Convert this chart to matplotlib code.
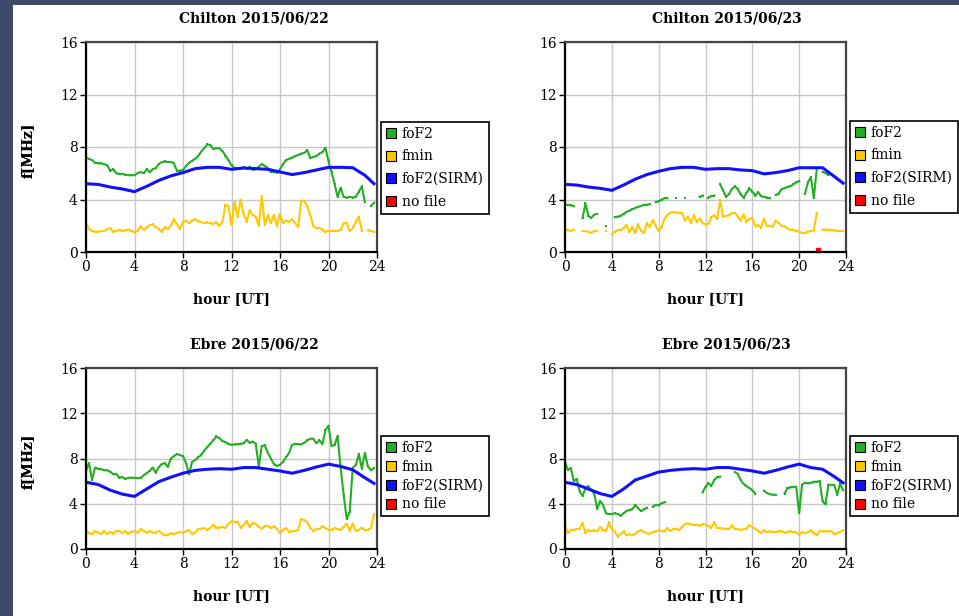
import numpy as np
import matplotlib
matplotlib.use("Agg")
import matplotlib.pyplot as plt
from matplotlib.lines import Line2D
from matplotlib.patches import Rectangle

nan = np.nan

# 15-minute sampling for the measured series, hourly for the model curve
hours = np.arange(96) * 0.25
sirm_hours = np.r_[np.arange(24), 23.75]

# ---- Chilton 2015/06/22 ----
chilton22_fof2 = [
    7.2, 7.1, 7.0, 6.8, 6.75, 6.75, 6.7, 6.6,
    6.2, 6.3, 6.0, 5.95, 5.95, 5.9, 5.85, 5.85,
    5.85, 6.0, 6.1, 6.0, 6.3, 6.1, 6.3, 6.4,
    6.7, 6.85, 6.9, 6.85, 6.85, 6.75, 6.2, 6.2,
    6.25, 6.55, 6.8, 6.95, 7.1, 7.3, 7.65, 7.9,
    8.2, 8.15, 7.85, 7.9, 7.9, 7.7, 7.35, 7.0,
    6.6, 6.4, 6.4, 6.4, 6.45, 6.35, 6.5, 6.25,
    6.3, 6.5, 6.7, 6.55, 6.4, 6.1, 6.1, 6.05,
    6.3, 6.7, 7.0, 7.1, 7.2, 7.3, 7.4, 7.5,
    7.55, 7.75, 7.15, 7.25, 7.3, 7.5, 7.6, 7.95,
    6.9, 6.1, 5.2, 4.2, 4.9, 4.2, 4.15, 4.2,
    4.15, 4.2, 4.6, 5.0, 3.8, nan, 3.5, 3.75,
]
chilton22_fmin = [
    2.2, 1.75, 1.6, 1.55, 1.55, 1.6, 1.6, 1.75,
    1.8, 1.55, 1.6, 1.7, 1.6, 1.65, 1.7, 1.6,
    1.5, 1.6, 1.95, 1.7, 1.85, 2.05, 2.1, 1.9,
    1.75, 1.55, 1.9, 1.75, 2.0, 2.5, 2.1, 1.75,
    2.3, 2.4, 2.2, 2.4, 2.5, 2.35, 2.3, 2.2,
    2.25, 2.2, 2.15, 2.25, 2.0, 2.3, 3.6, 3.5,
    2.05, 3.8, 2.7, 4.0, 2.9, 2.3, 3.2, 2.8,
    2.7, 2.0, 4.3, 2.05, 2.8, 2.2, 2.8, 2.0,
    2.9, 2.2, 2.4, 2.3, 2.5, 2.2, 1.9, 3.9,
    3.9, 3.5, 2.8, 2.0, 1.8, 1.85, 1.7, 1.55,
    1.6, 1.6, 1.6, 1.6, 1.7, 2.2, 2.2, 1.6,
    1.8, 2.3, 2.7, 1.6, nan, 1.65, 1.6, 1.55,
]
chilton22_sirm = [5.2, 5.15, 4.95, 4.8, 4.6, 5.0, 5.45, 5.8, 6.05, 6.35, 6.45, 6.45,
                  6.3, 6.4, 6.35, 6.3, 6.1, 5.9, 6.05, 6.25, 6.45, 6.45, 6.42, 5.85, 5.2]

# ---- Chilton 2015/06/23 ----
chilton23_fof2 = [
    3.6, 3.6, 3.55, 3.5, nan, nan, 2.6, 3.7,
    2.75, 2.6, 2.85, 2.9, nan, nan, 2.0, nan,
    nan, 2.65, 2.7, 2.75, 2.9, 3.05, 3.15, 3.25,
    3.35, 3.45, 3.5, 3.6, 3.6, 3.65, nan, 3.8,
    3.85, 4.0, 4.1, 4.1, nan, nan, 4.15, nan,
    nan, 4.15, nan, nan, nan, nan, 4.2, 4.3,
    nan, 4.15, 4.25, 4.3, nan, 5.15, 4.7, 4.2,
    4.4, 4.8, 5.0, 4.8, 4.4, 4.15, 4.5, 4.85,
    4.6, 4.3, 4.55, 4.25, 4.2, 4.15, 4.1, nan,
    4.35, 4.45, 4.8, 4.85, 4.95, 5.0, 5.15, 5.3,
    5.4, nan, 4.45, 5.3, 5.7, 4.1, 6.3, nan,
    6.1, 6.0, 5.9, 5.95, 5.8, 5.6, 5.4, 5.25,
]
chilton23_fmin = [
    1.8, 1.65, 1.6, 1.7, nan, nan, 1.6, 1.6,
    1.55, 1.45, 1.6, 1.6, nan, nan, 1.6, nan,
    1.35, 1.55, 1.65, 1.7, 1.8, 2.05, 1.55, 1.9,
    1.45, 2.1, 1.6, 1.45, 2.2, 1.9, 2.45, 2.0,
    1.6, 1.9, 2.55, 2.8, 3.0, 3.05, 3.0, 3.0,
    2.95, 2.4, 2.7, 2.2, 2.8, 2.3, 2.55, 2.2,
    2.1, 2.15, 2.65, 2.8, 2.5, 3.95, 2.7, 2.75,
    2.8, 2.95, 3.0, 2.7, 2.4, 2.85, 2.3, 2.5,
    2.6, 1.95, 2.05, 1.85, 2.55, 1.95, 2.0, 1.9,
    2.4, 2.2, 2.0, 1.95, 1.8, 1.7, 1.7, 1.6,
    1.55, 1.45, 1.45, 1.55, 1.6, 1.65, 2.95, nan,
    1.7, 1.7, 1.7, 1.65, 1.65, 1.6, 1.6, 1.6,
]
chilton23_sirm = [5.15, 5.1, 4.95, 4.85, 4.7, 5.1, 5.55, 5.9, 6.15, 6.35, 6.45, 6.45,
                  6.3, 6.35, 6.35, 6.25, 6.2, 5.95, 6.05, 6.2, 6.42, 6.42, 6.42, 5.75, 5.25]
chilton23_nofile_h = [21.6]
chilton23_nofile_v = [0.15]

# ---- Ebre 2015/06/22 ----
ebre22_fof2 = [
    6.9, 7.6, 6.1, 7.2, 7.1, 7.05, 6.95, 6.95,
    6.85, 6.6, 6.65, 6.3, 6.35, 6.2, 6.3, 6.3,
    6.3, 6.25, 6.3, 6.5, 6.7, 6.9, 7.2, 6.75,
    7.25, 7.5, 7.6, 7.25, 8.0, 8.2, 8.4, 8.3,
    8.2, 7.6, 6.6, 7.7, 7.85, 8.1, 8.3, 8.7,
    9.0, 9.3, 9.6, 9.95, 9.8, 9.55, 9.45, 9.3,
    9.2, 9.25, 9.25, 9.3, 9.35, 9.65, 9.4, 9.5,
    9.3, 7.3, 9.1, 9.15, 8.5, 8.0, 7.5, 7.35,
    7.45, 7.7, 8.1, 8.5, 9.2, 9.3, 9.25, 9.25,
    9.4, 9.6, 9.75, 9.75, 9.35, 9.6, 9.3, 10.5,
    10.9, 9.1, 9.2, 10.0, 7.2, 4.8, 2.65, 3.3,
    7.2, 7.4, 8.4, 7.1, 8.5, 7.3, 6.95, 7.15,
]
ebre22_fmin = [
    1.7, 1.4, 1.3, 1.6, 1.45, 1.35, 1.6, 1.35,
    1.5, 1.35, 1.55, 1.6, 1.4, 1.55, 1.35, 1.5,
    1.6, 1.45, 1.75, 1.6, 1.45, 1.6, 1.45, 1.45,
    1.6, 1.4, 1.2, 1.25, 1.4, 1.3, 1.45, 1.5,
    1.45, 1.55, 1.65, 1.35, 1.45, 1.75, 1.8, 1.85,
    1.7, 1.85, 2.1, 1.9, 1.9, 1.95, 1.85, 2.2,
    2.45, 2.4, 2.4, 1.9, 2.1, 2.45, 1.95, 2.3,
    2.2, 1.95, 1.8, 2.0, 2.05, 1.85, 2.0, 1.8,
    1.4, 1.65, 1.85, 1.5, 1.55, 1.6, 1.7, 2.65,
    2.55, 2.35, 1.9, 1.55, 1.8, 1.75, 2.0, 1.85,
    1.7, 1.7, 1.85, 1.75, 1.7, 1.95, 2.25, 1.6,
    2.25, 1.6, 1.7, 1.9, 1.65, 1.7, 1.85, 3.05,
]
ebre22_sirm = [5.9, 5.7, 5.2, 4.85, 4.65, 5.3, 5.95, 6.35, 6.7, 6.95, 7.05, 7.1,
               7.05, 7.2, 7.2, 7.05, 6.9, 6.7, 6.95, 7.25, 7.5, 7.3, 7.0, 6.3, 5.8]

# ---- Ebre 2015/06/23 ----
ebre23_fof2 = [
    7.7, 7.0, 7.15, 6.0, 6.2, 5.1, 4.7, 5.35,
    5.55, 5.2, 4.9, 3.55, 4.25, 3.9, 3.15, 3.1,
    3.1, 3.15, 3.1, 2.95, 3.15, 3.35, 3.45, 3.5,
    3.9, 3.6, 3.35, 3.5, 3.65, nan, 3.75, 3.9,
    3.85, 4.05, 4.12, nan, nan, nan, nan, nan,
    nan, nan, nan, nan, nan, nan, nan, 5.0,
    5.5, 5.8, 5.6, 6.1, 6.35, 6.4, nan, nan,
    nan, nan, 6.8, 6.65, 6.1, 5.75, 5.55, 5.4,
    5.2, 4.9, nan, nan, 5.15, 4.95, 4.85, 4.8,
    4.8, nan, nan, 4.9, 5.35, 5.45, 5.5, 5.5,
    3.15, 5.7, 5.85, 5.8, 5.85, 5.95, 5.95, 6.0,
    4.2, 3.95, 5.7, 5.65, 5.65, 4.8, 5.8, 5.2,
]
ebre23_fmin = [
    2.1, 1.4, 1.65, 1.7, 1.75, 1.8, 2.3, 1.45,
    1.7, 1.55, 1.65, 1.55, 1.95, 1.7, 1.55, 2.35,
    1.75, 1.5, 1.1, 1.3, 1.55, 1.2, 1.3, 1.2,
    1.35, 1.55, 1.65, 1.5, 1.4, 1.35, 1.5, 1.55,
    1.65, 1.6, 1.55, 1.85, 1.6, 1.75, 1.8, 1.65,
    1.95, 2.25, 2.25, 2.2, 2.1, 2.15, 2.05, 2.2,
    2.15, 2.05, 1.9, 2.35, 1.85, 1.85, 1.8, 1.8,
    1.75, 2.1, 1.75, 1.75, 1.7, 1.75, 1.8, 2.1,
    1.95, 1.8, 1.6, 1.4, 1.65, 1.5, 1.55, 1.5,
    1.5, 1.55, 1.55, 1.45, 1.5, 1.55, 1.5, 1.5,
    1.25, 1.5, 1.4, 1.5, 1.65, 1.4, 1.2, 1.6,
    1.55, 1.55, 1.55, 1.6, 1.3, 1.4, 1.5, 1.65,
]
ebre23_sirm = [5.9, 5.7, 5.3, 4.9, 4.65, 5.3, 6.1, 6.45, 6.8, 6.95, 7.05, 7.1,
               7.05, 7.2, 7.2, 7.05, 6.9, 6.7, 6.95, 7.25, 7.5, 7.2, 7.05, 6.4, 5.85]

legend_labels = ["foF2", "fmin", "foF2(SIRM)", "no file"]
GREEN, YELLOW, BLUE, RED = "#22b022", "#ffc800", "#1010ff", "#ff0000"
x_ticks = [0, 4, 8, 12, 16, 20, 24]
y_ticks = [0, 4, 8, 12, 16]

W, H = 959, 616
plt.rcParams["font.family"] = ["DejaVu Serif"]

fig = plt.figure(figsize=(W / 100, H / 100), dpi=100, facecolor="white")
# dark page border on the left and top
fig.patches.append(Rectangle((0, 0), 13 / W, 1, transform=fig.transFigure,
                             facecolor="#3d4b6b", edgecolor="none", zorder=-10))
fig.patches.append(Rectangle((0, 1 - 5 / H), 1, 5 / H, transform=fig.transFigure,
                             facecolor="#3d4b6b", edgecolor="none", zorder=-10))


def fx(px):
    return px / W


def fy(py):
    return 1 - py / H


# (title, fof2, fmin, sirm, nofile, axes box px (l, t, r, b), title x, legend (x, y), label spacing)
panels = [
    ("Chilton 2015/06/22", chilton22_fof2, chilton22_fmin, chilton22_sirm, None,
     (86, 42, 377, 252), 254, (381, 122), 0.62),
    ("Chilton 2015/06/23", chilton23_fof2, chilton23_fmin, chilton23_sirm,
     (chilton23_nofile_h, chilton23_nofile_v), (565, 42, 846, 252), 727, (850, 121), 0.62),
    ("Ebre 2015/06/22", ebre22_fof2, ebre22_fmin, ebre22_sirm, None,
     (86, 368, 377, 549), 254, (381, 436), 0.35),
    ("Ebre 2015/06/23", ebre23_fof2, ebre23_fmin, ebre23_sirm, None,
     (565, 368, 846, 549), 726, (850, 436), 0.35),
]

for title, fof2, fmin, sirm, nofile, box, tx, leg_xy, lsp in panels:
    l, t, r, b = box
    ax = fig.add_axes([fx(l), fy(b), fx(r) - fx(l), fy(t) - fy(b)])
    ax.set_xlim(0, 24)
    ax.set_ylim(0, 16)
    ax.set_xticks(x_ticks)
    ax.set_yticks(y_ticks)
    ax.grid(True, color="#c8c8c8", linewidth=1.0)
    ax.set_axisbelow(True)
    ax.tick_params(direction="out", length=4, width=1, labelsize=10, pad=2)
    for side in ["top", "right"]:
        ax.spines[side].set_color("#444444")
        ax.spines[side].set_linewidth(1.6)
    for side in ["left", "bottom"]:
        ax.spines[side].set_color("black")
        ax.spines[side].set_linewidth(1.6)

    ax.plot(hours, fmin, color=YELLOW, lw=1.5, marker="s", ms=1.8, mew=0)
    ax.plot(hours, fof2, color=GREEN, lw=1.5, marker="s", ms=1.8, mew=0)
    ax.plot(sirm_hours, sirm, color=BLUE, lw=2.2)
    if nofile is not None:
        ax.plot(nofile[0], nofile[1], linestyle="none", marker="s", ms=3.5,
                color=RED, clip_on=False)

    fig.text(fx(tx), fy(t - 23), title, ha="center", va="center",
             fontsize=10, fontweight="bold")
    fig.text(fx(28), fy((t + b) / 2 + 3), "f[MHz]", rotation=90, ha="center",
             va="center", fontsize=10, fontweight="bold")
    fig.text(fx((l + r) / 2), fy(b + 47), "hour [UT]", ha="center", va="center",
             fontsize=10, fontweight="bold")

    handles = [Line2D([], [], linestyle="none", marker="s", ms=6.5,
                      markerfacecolor=c, markeredgecolor="black", mew=0.8)
               for c in (GREEN, YELLOW, BLUE, RED)]
    leg = fig.legend(handles, legend_labels, loc="upper left",
                     bbox_to_anchor=(fx(leg_xy[0]), fy(leg_xy[1])),
                     bbox_transform=fig.transFigure, borderaxespad=0,
                     fontsize=10, frameon=True, fancybox=False, framealpha=1,
                     edgecolor="black", handlelength=0.7, handletextpad=0.45,
                     borderpad=0.35, labelspacing=lsp)
    leg.get_frame().set_linewidth(1.2)

fig.savefig("out.png", dpi=100)
